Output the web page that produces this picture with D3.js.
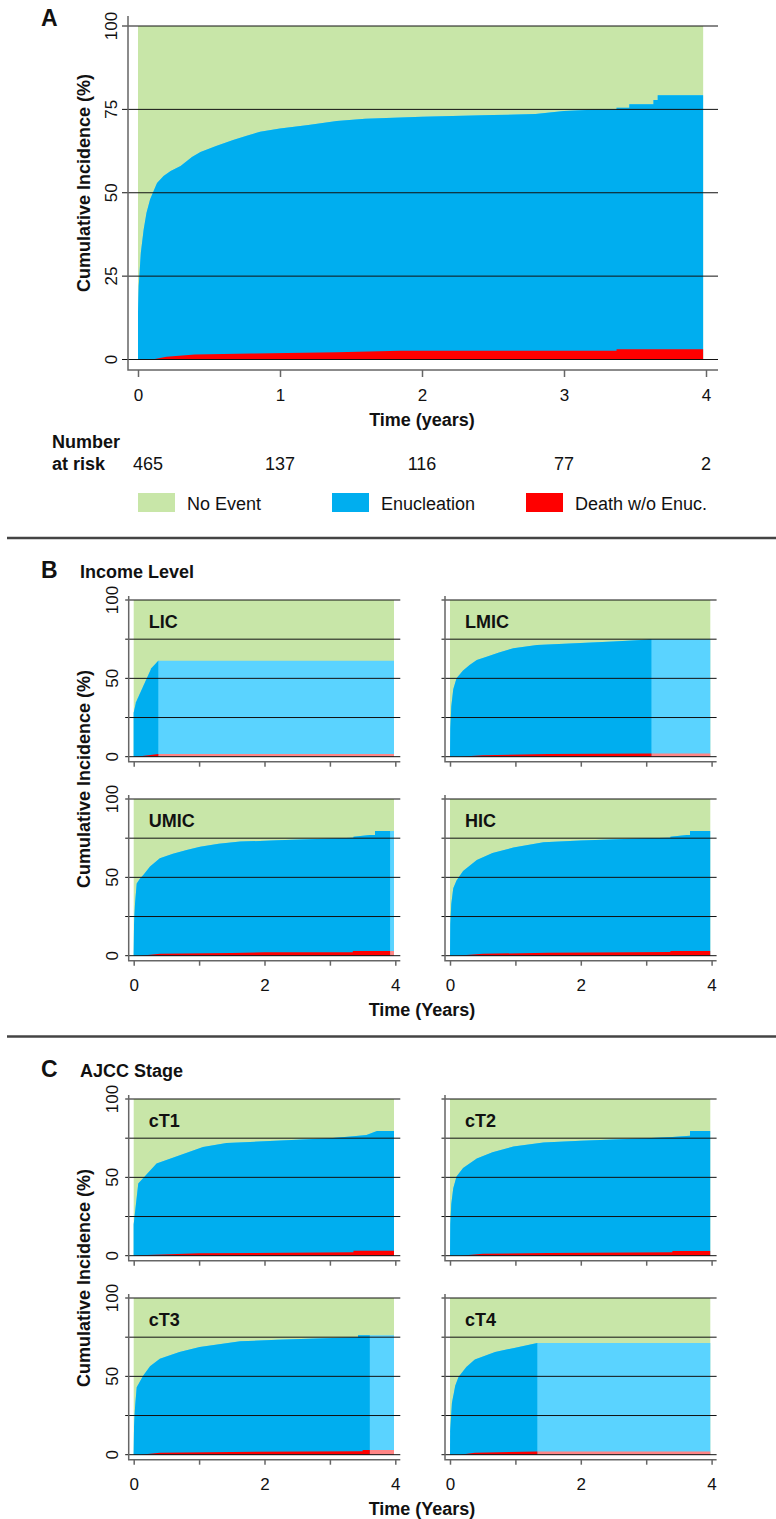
<!DOCTYPE html>
<html>
<head>
<meta charset="utf-8">
<script src="https://cdnjs.cloudflare.com/ajax/libs/d3/7.8.5/d3.min.js"></script>
<title>Cumulative incidence of enucleation</title>
<style>
    body { margin: 0; background: #fff; }
    svg { display: block; font-family: "Liberation Sans", Arial, Helvetica, sans-serif; }
    .grid { stroke: #111; stroke-width: 1; }
    .frame { stroke: #666; stroke-width: 1.5; fill: none; }
    .xaxis path { display: none; }
    .xaxis line { stroke: #666; stroke-width: 1.5; }
    .xaxis text { fill: #111; font-size: 17px; font-family: "Liberation Sans", Arial, sans-serif; }
    .ytick { fill: #111; font-size: 17px; }
    .title { font-weight: bold; font-size: 18px; fill: #111; }
    .letter { font-weight: bold; font-size: 23px; fill: #111; }
    .sep { stroke: #444; stroke-width: 2.5; }
</style>
</head>
<body>
<svg id="fig" width="776" height="1519"></svg>
<script>

// ---- Panel A: all patients (cumulative % of any event = top of blue, death w/o enucleation = red)
var aTime  = [0, 0, 0.005, 0.02, 0.04, 0.06, 0.085, 0.11, 0.134, 0.18, 0.23, 0.3, 0.38, 0.44, 0.55, 0.67, 0.76, 0.86, 1.0, 1.2,
              1.4, 1.6, 2.0, 2.5, 2.8, 3.0, 3.2, 3.37, 3.37, 3.46, 3.46, 3.63, 3.63, 3.66, 3.66, 3.98];
var aAny   = [0, 14, 22, 32, 39, 44, 48, 50.5, 52.9, 55, 56.5, 58, 60.7, 62.2, 64, 65.8, 67, 68.3, 69.3, 70.3,
              71.5, 72.2, 72.8, 73.3, 73.6, 74.5, 74.9, 75.0, 75.5, 75.5, 76.5, 76.5, 77.8, 77.8, 79.2, 79.2];
var aDeathTime = [0, 0.1, 0.2, 0.4, 0.8, 1.4, 1.85, 3.37, 3.37, 3.98];
var aDeath     = [0, 0, 0.8, 1.5, 1.8, 2.2, 2.6, 2.6, 3.1, 3.1];

var riskTimes  = [0, 1, 2, 3, 4];
var riskCounts = [465, 137, 116, 77, 2];

var legendLabels = ["No Event", "Enucleation", "Death w/o Enuc."];

// ---- Panel B: income level
var licTime = [0, 0, 0.035, 0.27, 0.376, 3.98];
var licAny  = [0, 28, 34.7, 56.4, 61.3, 61.3];
var licDeathTime = [0, 0.1, 0.376, 3.98];
var licDeath     = [0, 0.3, 1.8, 1.8];

var lmicTime = [0, 0.005, 0.02, 0.05, 0.1, 0.2, 0.3, 0.41, 0.56, 0.75, 0.97, 1.33, 2.0, 2.5, 3.0, 3.08, 3.98];
var lmicAny  = [0, 18, 32, 43, 50, 55, 58.5, 61.7, 63.8, 66.5, 69.2, 71.3, 72.6, 73.5, 74.6, 75, 75];
var lmicDeathTime = [0, 0.15, 0.5, 1.5, 3.08, 3.98];
var lmicDeath     = [0, 0, 1, 1.7, 2.0, 2.0];

var umicTime = [0, 0.005, 0.02, 0.046, 0.1, 0.147, 0.25, 0.4, 0.6, 0.81, 1.015, 1.3, 1.63, 2.2, 2.8, 3.36, 3.36, 3.61, 3.69, 3.69, 3.98];
var umicAny  = [0, 20, 33, 46, 49.5, 51.5, 57, 62.2, 65, 67.5, 69.6, 71.5, 72.8, 73.6, 74.5, 75.2, 75.9, 77, 77, 79.5, 79.5];
var umicDeathTime = [0, 0.1, 0.4, 1.5, 2.0, 3.35, 3.35, 3.98];
var umicDeath     = [0, 0, 1.2, 1.8, 2.2, 2.2, 3.0, 3.0];

var hicTime = [0, 0.005, 0.02, 0.05, 0.1, 0.2, 0.41, 0.65, 0.97, 1.43, 2.0, 3.0, 3.37, 3.37, 3.62, 3.67, 3.67, 3.98];
var hicAny  = [0, 20, 33, 43, 48, 54, 61, 65.5, 69, 72.4, 73.5, 74.9, 75.3, 75.9, 77, 77, 79.5, 79.5];
var hicDeathTime = [0, 0.1, 0.5, 1.5, 3.37, 3.37, 3.98];
var hicDeath     = [0, 0, 1.2, 1.9, 2.3, 3.0, 3.0];

// ---- Panel C: AJCC stage
var ct1Time = [0, 0, 0.07, 0.35, 1.06, 1.42, 2.0, 3.0, 3.36, 3.56, 3.72, 3.98];
var ct1Any  = [0, 20, 46, 58.8, 69.4, 72, 73, 75, 76.3, 77, 79.6, 79.6];
var ct1DeathTime = [0, 0.2, 1.0, 3.36, 3.36, 3.98];
var ct1Death     = [0, 0.5, 1.5, 2.2, 3.2, 3.2];

var ct2Time = [0, 0.005, 0.02, 0.05, 0.1, 0.2, 0.41, 0.65, 0.97, 1.43, 2.0, 3.0, 3.4, 3.67, 3.67, 3.98];
var ct2Any  = [0, 20, 33, 43, 50.5, 56, 62, 66, 69.7, 72.2, 73.3, 75, 75.8, 76.5, 79.5, 79.5];
var ct2DeathTime = [0, 0.15, 0.5, 1.5, 3.4, 3.4, 3.98];
var ct2Death     = [0, 0, 1.2, 1.8, 2.2, 3.0, 3.0];

var ct3Time = [0, 0.005, 0.02, 0.046, 0.147, 0.25, 0.4, 0.7, 1.01, 1.63, 2.2, 2.8, 3.43, 3.43, 3.61, 3.98];
var ct3Any  = [0, 18, 30, 43, 50.6, 56.5, 61.3, 65.5, 68.7, 72.4, 73.3, 74.1, 75, 76.2, 76.2, 76.2];
var ct3DeathTime = [0, 0.1, 0.4, 1.5, 3.5, 3.5, 3.98];
var ct3Death     = [0, 0, 1.2, 1.8, 2.2, 3.0, 3.0];

var ct4Time = [0, 0.003, 0.03, 0.08, 0.13, 0.25, 0.38, 0.69, 1.0, 1.335, 3.98];
var ct4Any  = [0, 15, 33, 44, 49.6, 56, 60.7, 65.5, 68.3, 71.3, 71.3];
var ct4DeathTime = [0, 0.15, 0.38, 1.335, 3.98];
var ct4Death     = [0, 0, 1.3, 2.0, 2.0];

var colors = {
    none:      "#c8e6a8",
    enuc:      "#00aeef",
    enucLight: "#5ad3ff",
    death:     "#ff0000",
    deathLight:"#ff8585"
};

var svg = d3.select("#fig");
var clipCount = 0;

// one cumulative-incidence panel
function drawFacet(o) {
    var x = d3.scaleLinear().domain([0, 4]).range([o.x0, o.x0 + 4 * o.perYear]);
    var y = d3.scaleLinear().domain([0, 100]).range([o.yBot, o.yTop]);
    var g = svg.append("g");
    var end = o.time[o.time.length - 1];

    var clipId = "clip" + (clipCount++);
    g.append("clipPath").attr("id", clipId).append("rect")
        .attr("x", x(0) - 1).attr("y", y(100))
        .attr("width", x(o.last) - x(0) + 1).attr("height", y(0) - y(100));

    g.append("rect")
        .attr("x", x(0)).attr("y", y(100))
        .attr("width", x(end) - x(0)).attr("height", y(0) - y(100))
        .attr("fill", colors.none);

    var area = d3.area()
        .x(function (d) { return x(d[0]); })
        .y0(y(0))
        .y1(function (d) { return y(d[1]); });

    var anyPts = d3.zip(o.time, o.any);
    var deathPts = d3.zip(o.deathTime, o.death);

    g.append("path").attr("d", area(anyPts)).attr("fill", colors.enucLight);
    g.append("path").attr("d", area(deathPts)).attr("fill", colors.deathLight);
    g.append("path").attr("d", area(anyPts)).attr("fill", colors.enuc).attr("clip-path", "url(#" + clipId + ")");
    g.append("path").attr("d", area(deathPts)).attr("fill", colors.death).attr("clip-path", "url(#" + clipId + ")");

    // horizontal reference lines
    g.selectAll("line.grid")
        .data([0, 25, 50, 75, 100])
        .enter().append("line")
        .attr("class", "grid")
        .attr("x1", o.x0 - o.gridLeft).attr("x2", x(4) + o.gridRight)
        .attr("y1", function (d) { return y(d); })
        .attr("y2", function (d) { return y(d); });

    // L-shaped frame
    var ax = o.x0 - o.axisGap;
    g.append("path").attr("class", "frame")
        .attr("d", "M" + ax + "," + (y(100) - o.above) + "V" + o.axisY + "H" + (x(4) + o.gridRight));

    var xAxis = d3.axisBottom(x)
        .tickValues([0, 1, 2, 3, 4])
        .tickSize(o.tick)
        .tickPadding(o.pad)
        .tickFormat(function (d) { return o.xLabels.indexOf(d) >= 0 ? d : ""; });
    g.append("g").attr("class", "xaxis")
        .attr("transform", "translate(0," + o.axisY + ")")
        .call(xAxis);

    g.selectAll("text.ytick")
        .data(o.yLabels)
        .enter().append("text")
        .attr("class", "ytick")
        .attr("text-anchor", "middle")
        .attr("transform", function (d) { return "translate(" + (ax - 11) + "," + y(d) + ") rotate(-90)"; })
        .text(function (d) { return d; });

    if (o.label) {
        g.append("text").attr("class", "title")
            .attr("x", o.x0 + 15).attr("y", y(100) + 28)
            .text(o.label);
    }
    return { x: x, y: y };
}

// ---------------- Panel A ----------------
var A = drawFacet({
    x0: 138, perYear: 142, yTop: 26, yBot: 359.5,
    time: aTime, any: aAny, deathTime: aDeathTime, death: aDeath, last: 3.98,
    gridLeft: 16, gridRight: 12, axisGap: 10, above: 10, axisY: 370,
    tick: 7, pad: 12, xLabels: [0, 1, 2, 3, 4], yLabels: [0, 25, 50, 75, 100]
});

svg.append("text").attr("class", "letter").attr("x", 41).attr("y", 26).text("A");
svg.append("text").attr("class", "title").attr("text-anchor", "middle")
    .attr("x", A.x(2)).attr("y", 426).text("Time (years)");
svg.append("text").attr("class", "title").attr("text-anchor", "middle")
    .attr("transform", "translate(90,183) rotate(-90)").text("Cumulative Incidence (%)");

svg.append("text").attr("class", "title").attr("x", 52).attr("y", 448).text("Number");
svg.append("text").attr("class", "title").attr("x", 52).attr("y", 470).text("at risk");
svg.selectAll("text.risk")
    .data(d3.zip(riskTimes, riskCounts))
    .enter().append("text")
    .attr("class", "risk")
    .attr("font-size", "18px").attr("fill", "#111")
    .attr("text-anchor", function (d, i) { return i === 0 ? "start" : "middle"; })
    .attr("x", function (d, i) { return i === 0 ? A.x(d[0]) - 5 : A.x(d[0]); })
    .attr("y", 470)
    .text(function (d) { return d[1]; });

var legendColors = [colors.none, colors.enuc, colors.death];
var legend = svg.selectAll("g.legend")
    .data(legendLabels)
    .enter().append("g")
    .attr("class", "legend")
    .attr("transform", function (d, i) { return "translate(" + (138 + i * 194) + ",493)"; });
legend.append("rect")
    .attr("width", 37).attr("height", 19)
    .attr("fill", function (d, i) { return legendColors[i]; });
legend.append("text")
    .attr("x", 49).attr("y", 17)
    .attr("font-size", "18px").attr("fill", "#111")
    .text(function (d) { return d; });

svg.append("line").attr("class", "sep").attr("x1", 7).attr("x2", 776).attr("y1", 538).attr("y2", 538);
svg.append("line").attr("class", "sep").attr("x1", 7).attr("x2", 776).attr("y1", 1036.5).attr("y2", 1036.5);

// ---------------- Panels B and C ----------------
var colX0 = [133.7, 450];

function drawGroup(offset, letter, heading, facets) {
    var rowTop = [600 + offset, 799 + offset];
    facets.forEach(function (f, i) {
        var row = Math.floor(i / 2), col = i % 2;
        drawFacet({
            x0: colX0[col], perYear: 65.4, yTop: rowTop[row], yBot: rowTop[row] + 156.7,
            time: f.time, any: f.any, deathTime: f.deathTime, death: f.death, last: f.last,
            gridLeft: 8.5, gridRight: 5, axisGap: 5, above: 4, axisY: rowTop[row] + 161.7,
            tick: 5, pad: 13, xLabels: row === 1 ? [0, 2, 4] : [],
            yLabels: col === 0 ? [0, 50, 100] : [],
            label: f.label
        });
    });
    svg.append("text").attr("class", "letter").attr("x", 41).attr("y", 578 + offset).text(letter);
    svg.append("text").attr("class", "title").attr("x", 80).attr("y", 577.5 + offset).text(heading);
    svg.append("text").attr("class", "title").attr("text-anchor", "middle")
        .attr("x", 422).attr("y", 1016 + offset).text("Time (Years)");
    svg.append("text").attr("class", "title").attr("text-anchor", "middle")
        .attr("transform", "translate(90," + (779 + offset) + ") rotate(-90)").text("Cumulative Incidence (%)");
}

drawGroup(0, "B", "Income Level", [
    { label: "LIC",  time: licTime,  any: licAny,  deathTime: licDeathTime,  death: licDeath,  last: 0.376 },
    { label: "LMIC", time: lmicTime, any: lmicAny, deathTime: lmicDeathTime, death: lmicDeath, last: 3.08 },
    { label: "UMIC", time: umicTime, any: umicAny, deathTime: umicDeathTime, death: umicDeath, last: 3.92 },
    { label: "HIC",  time: hicTime,  any: hicAny,  deathTime: hicDeathTime,  death: hicDeath,  last: 3.98 }
]);

drawGroup(499, "C", "AJCC Stage", [
    { label: "cT1", time: ct1Time, any: ct1Any, deathTime: ct1DeathTime, death: ct1Death, last: 3.98 },
    { label: "cT2", time: ct2Time, any: ct2Any, deathTime: ct2DeathTime, death: ct2Death, last: 3.98 },
    { label: "cT3", time: ct3Time, any: ct3Any, deathTime: ct3DeathTime, death: ct3Death, last: 3.61 },
    { label: "cT4", time: ct4Time, any: ct4Any, deathTime: ct4DeathTime, death: ct4Death, last: 1.335 }
]);

</script>
</body>
</html>
